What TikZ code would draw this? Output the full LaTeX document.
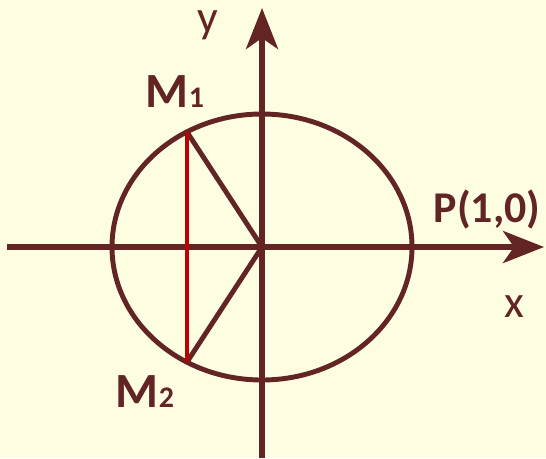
\documentclass[tikz,border=0pt]{standalone}
\usepackage{fontspec}
\setmainfont{Carlito}
\usetikzlibrary{arrows.meta}
\definecolor{axisbrown}{HTML}{632424}
\definecolor{chordred}{HTML}{C00000}
\definecolor{paper}{HTML}{FDFDE2}
\begin{document}
\begin{tikzpicture}[x=0.02cm, y=0.02cm,
  axisline/.style={draw=axisbrown, line width=3.2pt, -{Stealth[length=0.82cm, width=0.64cm, inset=0.22cm]}},
  curveline/.style={draw=axisbrown, line width=2.8pt},
  lbl/.style={text=axisbrown, anchor=base, inner sep=0pt, font=\fontsize{28}{30}\selectfont\bfseries},
  axlbl/.style={text=axisbrown, anchor=base, inner sep=0pt, font=\fontsize{26}{28}\selectfont}]
  %% Background
  \fill[paper] (0,0) rectangle (546,458);
  \useasboundingbox (0,0) rectangle (546,458);
  %% Points
  \coordinate (O) at (262,211);
  \coordinate (M1pt) at (187,326);
  \coordinate (M2pt) at (187,96);
  \coordinate (xstart) at (7,211);
  \coordinate (xend) at (544,211);
  \coordinate (ystart) at (262,0);
  \coordinate (yend) at (262,450);
  %% Axes
  \draw[axisline] (xstart) -- (xend);
  \draw[axisline] (ystart) -- (yend);
  %% Unit circle
  \draw[curveline] (O) ellipse [x radius=150, y radius=133];
  %% Radii and chord
  \draw[curveline, line join=round] (M1pt) -- (O) -- (M2pt);
  \draw[chordred, line width=2.5pt] (M1pt) -- (M2pt);
  %% Labels
  \node[lbl] (M1) at (175,351) {M{\fontsize{17}{18}\selectfont 1}};
  \node[lbl] (M2) at (145,51) {M{\fontsize{17}{18}\selectfont 2}};
  \node[lbl, font=\fontsize{25}{27}\selectfont\bfseries] (P) at (487,236) {P(1,0)};
  \node[axlbl] (xl) at (514,141) {x};
  \node[axlbl] (yl) at (208,426) {y};
\end{tikzpicture}
\end{document}
